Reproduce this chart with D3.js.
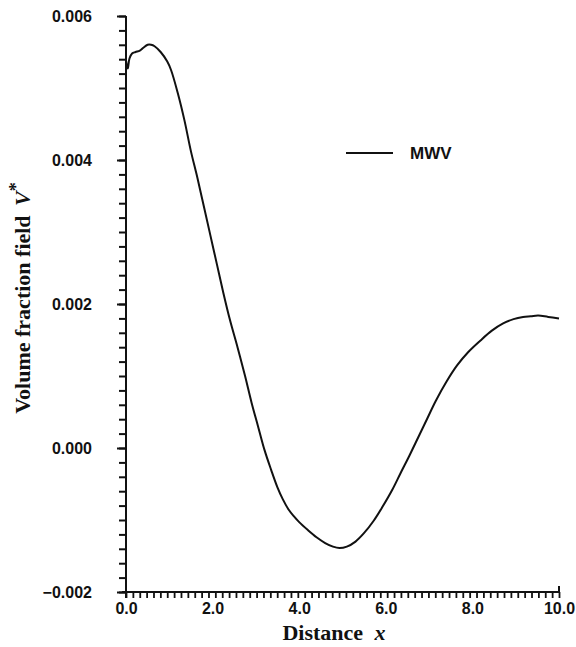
<!DOCTYPE html>
<html><head><meta charset="utf-8">
<script src="https://cdn.jsdelivr.net/npm/d3@7"></script>
<style>body{margin:0;background:#fff}</style>
</head><body>
<svg id="c" width="576" height="647"></svg>
<script>
const xs = [0.00,0.04,0.08,0.14,0.22,0.32,0.40,0.50,0.58,0.66,0.80,0.95,1.04,1.20,1.35,1.50,1.65,1.80,1.95,2.10,2.25,2.40,2.58,2.75,2.90,3.05,3.20,3.35,3.50,3.62,3.75,3.88,4.00,4.20,4.40,4.60,4.78,4.93,5.10,5.30,5.50,5.72,5.92,6.15,6.34,6.55,6.75,6.95,7.15,7.40,7.65,7.90,8.18,8.45,8.71,8.95,9.17,9.35,9.52,9.75,10.0];
const ys = [0.00538,0.00527,0.00541,0.00548,0.00550,0.00552,0.00556,0.00560,0.00560,0.00558,0.00550,0.00537,0.00525,0.00492,0.00455,0.00412,0.00375,0.00335,0.00295,0.00255,0.00215,0.00178,0.00139,0.00100,0.00063,0.00030,-0.00003,-0.00030,-0.00055,-0.00071,-0.00085,-0.00095,-0.00103,-0.00114,-0.00124,-0.00132,-0.00137,-0.00139,-0.00137,-0.00130,-0.00118,-0.00101,-0.00082,-0.00058,-0.00035,-0.00010,0.00015,0.00040,0.00065,0.00092,0.00115,0.00133,0.00149,0.00163,0.00173,0.00179,0.00182,0.00183,0.00184,0.00182,0.00180];
const xTicks = [0,2,4,6,8,10];
const xTickLabels = ["0.0","2.0","4.0","6.0","8.0","10.0"];
const yTicks = [-0.002,0,0.002,0.004,0.006];
const yTickLabels = ["\u22120.002","0.000","0.002","0.004","0.006"];
const seriesName = "MWV";

const svg = d3.select("#c");
const x = d3.scaleLinear().domain([0,10]).range([126,559]);
const y = d3.scaleLinear().domain([-0.002,0.006]).range([592,16]);
const ink = "#111";
const sans = "Liberation Sans, Arial, sans-serif";
const serif = "Liberation Serif, Times New Roman, serif";

// minor ticks
const yMinor = d3.range(0,41).map(i=>-0.002+i*0.0002);
const xMinor = d3.range(0,64).map(i=>i*10/63);
svg.append("g").attr("transform","translate(126,0)")
  .call(d3.axisLeft(y).tickValues(yMinor).tickSize(7).tickSizeOuter(0).tickFormat(""))
  .call(g=>g.select(".domain").remove())
  .call(g=>g.selectAll("line").attr("stroke",ink).attr("stroke-width",2));
svg.append("g").attr("transform","translate(0,592)")
  .call(d3.axisBottom(x).tickValues(xMinor).tickSize(6).tickSizeOuter(0).tickFormat(""))
  .call(g=>g.select(".domain").remove())
  .call(g=>g.selectAll("line").attr("stroke",ink).attr("stroke-width",1.8));

// major y ticks + labels
svg.append("g").attr("transform","translate(126,0)")
  .call(d3.axisLeft(y).tickValues(yTicks).tickSize(9).tickSizeOuter(0).tickPadding(25)
        .tickFormat((d,i)=>yTickLabels[i]))
  .call(g=>g.select(".domain").remove())
  .call(g=>g.selectAll("line").attr("stroke",ink).attr("stroke-width",2))
  .call(g=>g.selectAll("text").attr("font-family",sans).attr("font-size",16).attr("font-weight","bold").attr("fill",ink));
svg.append("line").attr("x1",126).attr("x2",126).attr("y1",y(0.006)).attr("y2",598).attr("stroke",ink).attr("stroke-width",2);

// x labels
svg.append("g").attr("transform","translate(0,592)")
  .call(d3.axisBottom(x).tickValues(xTicks).tickSize(0).tickSizeOuter(0).tickPadding(11)
        .tickFormat((d,i)=>xTickLabels[i]))
  .call(g=>g.select(".domain").remove())
  .call(g=>g.selectAll("text").attr("font-family",sans).attr("font-size",16).attr("font-weight","bold").attr("fill",ink));
svg.append("line").attr("x1",x(0)-4).attr("x2",x(10)).attr("y1",592).attr("y2",592).attr("stroke",ink).attr("stroke-width",2);
svg.append("line").attr("x1",x(10)).attr("x2",x(10)).attr("y1",593).attr("y2",586).attr("stroke",ink).attr("stroke-width",2);

// axis titles
const xt = svg.append("text").attr("x",334).attr("y",640).attr("text-anchor","middle")
  .attr("font-family",serif).attr("font-size",22).attr("font-weight","bold").attr("fill",ink);
xt.append("tspan").text("Distance ");
xt.append("tspan").attr("dx",6).attr("font-style","italic").text("x");

const yt = svg.append("text").attr("transform","translate(30,298) rotate(-90)").attr("text-anchor","middle")
  .attr("font-family",serif).attr("font-size",22).attr("font-weight","bold").attr("fill",ink);
yt.append("tspan").text("Volume fraction field ");
yt.append("tspan").attr("dx",4).attr("font-style","italic").text("V");
yt.append("tspan").attr("dy",-8).attr("font-size",18).text("*");

// curve
const pts = xs.map((d,i)=>[d,ys[i]]);
svg.append("path").datum(pts)
  .attr("d", d3.line().x(d=>x(d[0])).y(d=>y(d[1])).curve(d3.curveCatmullRom.alpha(0.5)))
  .attr("fill","none").attr("stroke",ink).attr("stroke-width",2);

// legend
svg.append("line").attr("x1",346).attr("x2",393).attr("y1",153).attr("y2",153).attr("stroke",ink).attr("stroke-width",2);
svg.append("text").attr("x",410).attr("y",159).attr("font-family",sans)
  .attr("font-size",17).attr("font-weight","bold").attr("fill",ink).text(seriesName);
</script>
</body></html>
